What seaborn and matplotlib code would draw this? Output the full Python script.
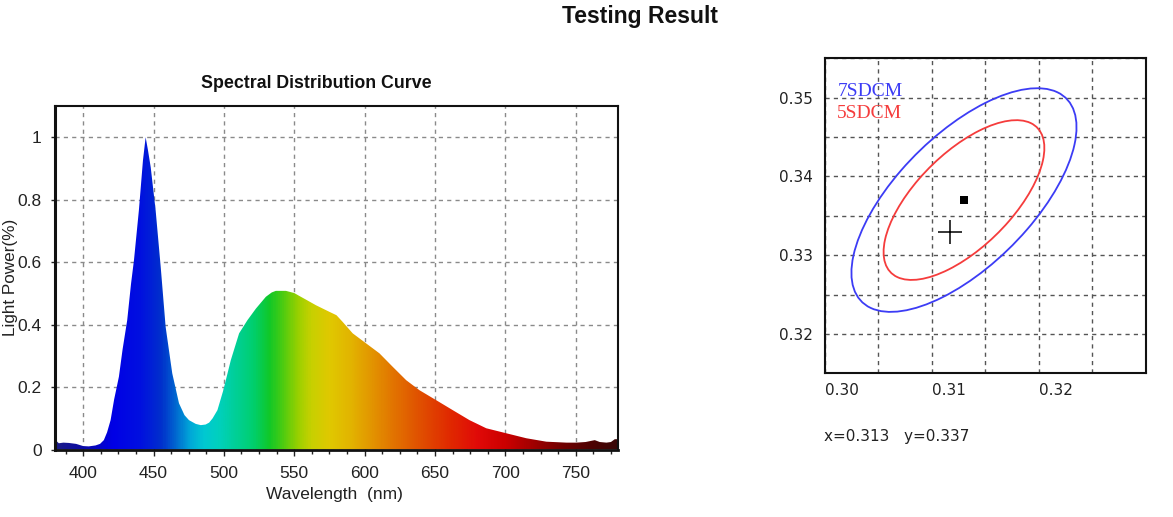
import numpy as np
import pandas as pd
import matplotlib
matplotlib.use("Agg")
import matplotlib.pyplot as plt
from matplotlib.patches import Ellipse
from matplotlib.colors import LinearSegmentedColormap
from matplotlib.ticker import MultipleLocator
import seaborn as sns

# ---------------- data ----------------
wavelength_nm = [380, 382.7, 386, 389.8, 395, 400, 404, 408.8, 412, 414.7, 417, 419.5, 422,
                 425.4, 428, 431.3, 434, 436.1, 439.6, 442.5, 444.4, 446, 448, 451.5, 455.1,
                 458.6, 463.3, 468.1, 472, 475.2, 480, 483.6, 487, 489.5, 492, 495.4, 499.6,
                 504.9, 510.8, 516.7, 522.7, 529.8, 534, 536.9, 544.1, 550, 553.5, 558.3,
                 565.4, 574.9, 580, 584.3, 591.5, 601, 610.5, 619.9, 629.5, 638.9, 650.8,
                 662.6, 674.5, 686.4, 700.6, 714.9, 729.1, 743.4, 750.5, 757, 763.5, 767,
                 771.8, 775, 777.7, 780]
light_power = [0.032, 0.020, 0.022, 0.021, 0.018, 0.011, 0.010, 0.013, 0.018, 0.030, 0.055,
               0.094, 0.160, 0.233, 0.320, 0.414, 0.530, 0.606, 0.766, 0.926, 1.000, 0.960,
               0.904, 0.766, 0.585, 0.393, 0.244, 0.148, 0.110, 0.094, 0.082, 0.078, 0.080,
               0.086, 0.100, 0.126, 0.190, 0.286, 0.372, 0.414, 0.451, 0.489, 0.503, 0.508,
               0.508, 0.501, 0.492, 0.480, 0.462, 0.441, 0.430, 0.409, 0.372, 0.340, 0.308,
               0.265, 0.222, 0.190, 0.158, 0.126, 0.094, 0.068, 0.052, 0.036, 0.025, 0.022,
               0.022, 0.024, 0.030, 0.024, 0.022, 0.024, 0.033, 0.033]

spd_x_ticks = [400, 450, 500, 550, 600, 650, 700, 750]
spd_y_ticks = [0, 0.2, 0.4, 0.6, 0.8, 1.0]
spd_y_labels = ["0", "0.2", "0.4", "0.6", "0.8", "1"]

ellipse_labels = ["7SDCM", "5SDCM"]
ellipse_steps = [7, 5]
ellipse_center = (0.313, 0.337)
one_step_semi_major = 0.00232
one_step_semi_minor = 0.000998
ellipse_angle_deg = 57.5

measured_x = [0.313]
measured_y = [0.337]
target_x = [0.3117]
target_y = [0.333]

cie_x_ticks = [0.30, 0.31, 0.32]
cie_x_labels = ["0.30", "0.31", "0.32"]
cie_y_ticks = [0.32, 0.33, 0.34, 0.35]
cie_y_labels = ["0.32", "0.33", "0.34", "0.35"]
coord_text = "x=0.313   y=0.337"

# ---------------- style ----------------
sns.set_style("white")
plt.rcParams["font.family"] = ["Liberation Sans", "DejaVu Sans"]

W, H = 1173, 517
fig = plt.figure(figsize=(W / 100, H / 100), dpi=100)

# spectrum colour stops (wavelength, colour)
color_stops = [(380, "#1c1c86"), (400, "#0a0aa8"), (420, "#0000e6"), (440, "#0010e0"),
               (455, "#0030cc"), (465, "#0066d0"), (475, "#00a6d8"), (485, "#00c8d2"),
               (495, "#00d0c0"), (505, "#00d0a0"), (520, "#00cf70"), (532, "#10c828"),
               (542, "#50cc10"), (552, "#98d000"), (562, "#c8d000"), (575, "#e0c800"),
               (590, "#e2b400"), (605, "#e29400"), (620, "#e27400"), (640, "#e04e00"),
               (660, "#e02a00"), (680, "#e00a08"), (700, "#cc0000"), (720, "#a00000"),
               (740, "#720000"), (760, "#500202"), (780, "#380808")]
cmap = LinearSegmentedColormap.from_list(
    "spd", [((w - 380) / 400, c) for w, c in color_stops])

# ---------------- left: spectral distribution ----------------
ax1 = fig.add_axes([55 / W, 1 - 449.5 / H, 563 / W, 343.5 / H])
df = pd.DataFrame({"wavelength": wavelength_nm, "power": light_power})
poly = ax1.fill_between(df["wavelength"], 0, df["power"], facecolor="none",
                        edgecolor="none", zorder=2)
grad = cmap(np.linspace(0, 1, 800))[None, :, :3]
im = ax1.imshow(grad, extent=[380, 780, 0, 1.1], aspect="auto", origin="lower",
                zorder=2, interpolation="bilinear")
im.set_clip_path(poly.get_paths()[0], transform=ax1.transData)

ax1.set_xlim(380, 780)
ax1.set_ylim(0, 1.1)
ax1.set_xticks(spd_x_ticks)
ax1.set_xticklabels([str(t) for t in spd_x_ticks])
ax1.xaxis.set_minor_locator(MultipleLocator(12.5))
ax1.set_yticks(spd_y_ticks)
ax1.set_yticklabels(spd_y_labels)
ax1.set_axisbelow(True)
ax1.grid(True, which="major", linestyle=(0, (3, 3)), color="#8a8a8a", linewidth=1.0, zorder=0)
ax1.tick_params(axis="x", which="major", direction="out", length=4, width=1, pad=8,
                labelsize=12.5, colors="#222222", bottom=True)
ax1.tick_params(axis="x", which="minor", direction="out", length=3, width=1, bottom=True,
                color="#222222")
ax1.tick_params(axis="y", which="major", direction="out", length=3, width=1, pad=6.5,
                labelsize=12.5, colors="#222222", left=True)
for side, sp in ax1.spines.items():
    sp.set_visible(True)
    sp.set_color("#111111")
    sp.set_linewidth(1.5)
ax1.spines["left"].set_linewidth(2.2)
ax1.spines["bottom"].set_linewidth(2.0)

fig.text(316 / W, 1 - 83.3 / H, "Spectral Distribution Curve", ha="center", va="center",
         fontsize=12.8, fontweight="bold", color="#111111")
fig.text(11 / W, 1 - 277.5 / H, "Light Power(%)", ha="center", va="center", rotation=90,
         fontsize=12.3, color="#222222")
fig.text(334 / W, 1 - 495 / H, "Wavelength  (nm)", ha="center", va="center",
         fontsize=12.5, color="#222222")

# ---------------- right: chromaticity ellipses ----------------
ax2 = fig.add_axes([825 / W, 1 - 373.3 / H, 320.7 / W, 315 / H])
ax2.set_xlim(0.30, 0.33)
ax2.set_ylim(0.315, 0.355)
ax2.set_xticks(cie_x_ticks)
ax2.set_xticklabels(cie_x_labels)
ax2.set_yticks(cie_y_ticks)
ax2.set_yticklabels(cie_y_labels)
ax2.xaxis.set_minor_locator(MultipleLocator(0.005))
ax2.yaxis.set_minor_locator(MultipleLocator(0.005))
ax2.set_axisbelow(True)
ax2.grid(True, which="both", linestyle=(0, (3, 3)), color="#555555", linewidth=1.0, zorder=0)
ax2.tick_params(axis="both", which="both", length=0)
ax2.tick_params(axis="x", pad=7, labelsize=11, labelcolor="#222222")
ax2.tick_params(axis="y", pad=9, labelsize=11, labelcolor="#222222")
for lbl in ax2.get_xticklabels():
    lbl.set_fontfamily("DejaVu Sans")
    lbl.set_horizontalalignment("left")
for lbl in ax2.get_yticklabels():
    lbl.set_fontfamily("DejaVu Sans")
for sp in ax2.spines.values():
    sp.set_visible(True)
    sp.set_color("#111111")
    sp.set_linewidth(1.5)

ell_colors = ["#3c3cf5", "#f53c3c"]
label_y = [0.894, 0.8254]
for lab, steps, col, ly in zip(ellipse_labels, ellipse_steps, ell_colors, label_y):
    e = Ellipse(ellipse_center, 2 * steps * one_step_semi_major,
                2 * steps * one_step_semi_minor, angle=ellipse_angle_deg,
                fill=False, edgecolor=col, linewidth=1.3, zorder=3)
    ax2.add_patch(e)
    ax2.text(0.0384, ly, lab, transform=ax2.transAxes, ha="left", va="center",
             fontsize=14, color=col, family="Liberation Serif")

sns.scatterplot(x=measured_x, y=measured_y, ax=ax2, marker="s", s=34, color="black",
                edgecolor="black", linewidth=0, zorder=4, legend=False)
sns.scatterplot(x=target_x, y=target_y, ax=ax2, marker="+", s=300, color="black",
                linewidth=1.1, zorder=4, legend=False)

fig.text(824 / W, 1 - 436.7 / H, coord_text, ha="left", va="center", fontsize=11,
         color="#222222", family="DejaVu Sans")

fig.text(640 / W, 1 - 17 / H, "Testing Result", ha="center", va="center",
         fontsize=16.5, fontweight="bold", color="#111111")

fig.savefig("out.png", dpi=100)
